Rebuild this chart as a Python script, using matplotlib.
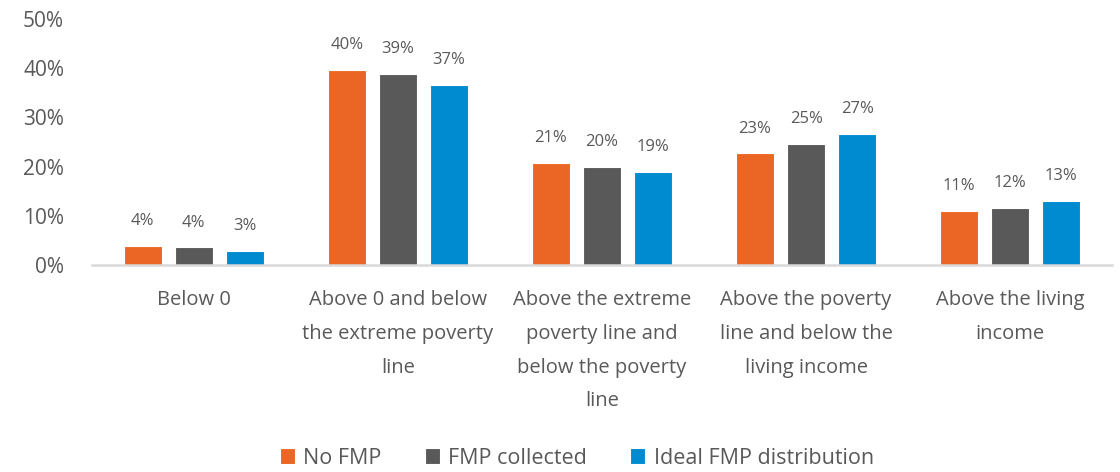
import numpy as np
import matplotlib.pyplot as plt

# Data (share of households per income band, %)
categories = [
    "Below 0",
    "Above 0 and below\nthe extreme poverty\nline",
    "Above the extreme\npoverty line and\nbelow the poverty\nline",
    "Above the poverty\nline and below the\nliving income",
    "Above the living\nincome",
]
series_names = ["No FMP", "FMP collected", "Ideal FMP distribution"]
no_fmp = [3.9, 39.7, 20.7, 22.7, 11.0]
fmp_collected = [3.6, 38.9, 19.9, 24.6, 11.6]
ideal_fmp = [2.9, 36.6, 18.9, 26.6, 13.1]
yticks = [0, 10, 20, 30, 40, 50]

colors = ["#EB6625", "#595959", "#008AD0"]
text_color = "#595959"

plt.rcParams["font.family"] = ["Open Sans", "DejaVu Sans"]

fig = plt.figure(figsize=(11.2, 4.72), dpi=100)
ax = fig.add_axes([0.082, 0.4386, 0.911, 0.5211])

x = np.arange(len(categories))
width = 0.186
pitch = 0.25
for i, (vals, name, c) in enumerate(zip([no_fmp, fmp_collected, ideal_fmp], series_names, colors)):
    pos = x + (i - 1) * pitch
    bars = ax.bar(pos, vals, width=width, color=c, edgecolor="white", linewidth=0.8, label=name, zorder=2)
    for b, v in zip(bars, vals):
        ax.annotate(f"{v:.0f}%", (b.get_x() + b.get_width() / 2, v),
                    xytext=(0, 12), textcoords="offset points",
                    ha="center", va="bottom", fontsize=12, color=text_color)

ax.set_xlim(-0.5, len(categories) - 0.5)
ax.set_ylim(0, 50)
ax.set_yticks(yticks)
ax.set_yticklabels([f"{t}%" for t in yticks])
ax.set_xticks(x)
ax.set_xticklabels(categories, linespacing=1.92, va="top")

for s in ["top", "right", "left"]:
    ax.spines[s].set_visible(False)
ax.spines["bottom"].set_color("#D9D9D9")
ax.spines["bottom"].set_linewidth(1.8)
ax.tick_params(axis="both", length=0, colors=text_color)
ax.tick_params(axis="y", labelsize=15, pad=20)
ax.tick_params(axis="x", labelsize=14.5, pad=18)

fig.legend(loc="center", bbox_to_anchor=(577 / 1120, 1 - 458 / 472), ncol=3,
           frameon=False, fontsize=15.5, handlelength=0.7, handleheight=0.7,
           handletextpad=0.4, columnspacing=2.0, labelcolor=text_color)

fig.savefig("out.png", dpi=100)
